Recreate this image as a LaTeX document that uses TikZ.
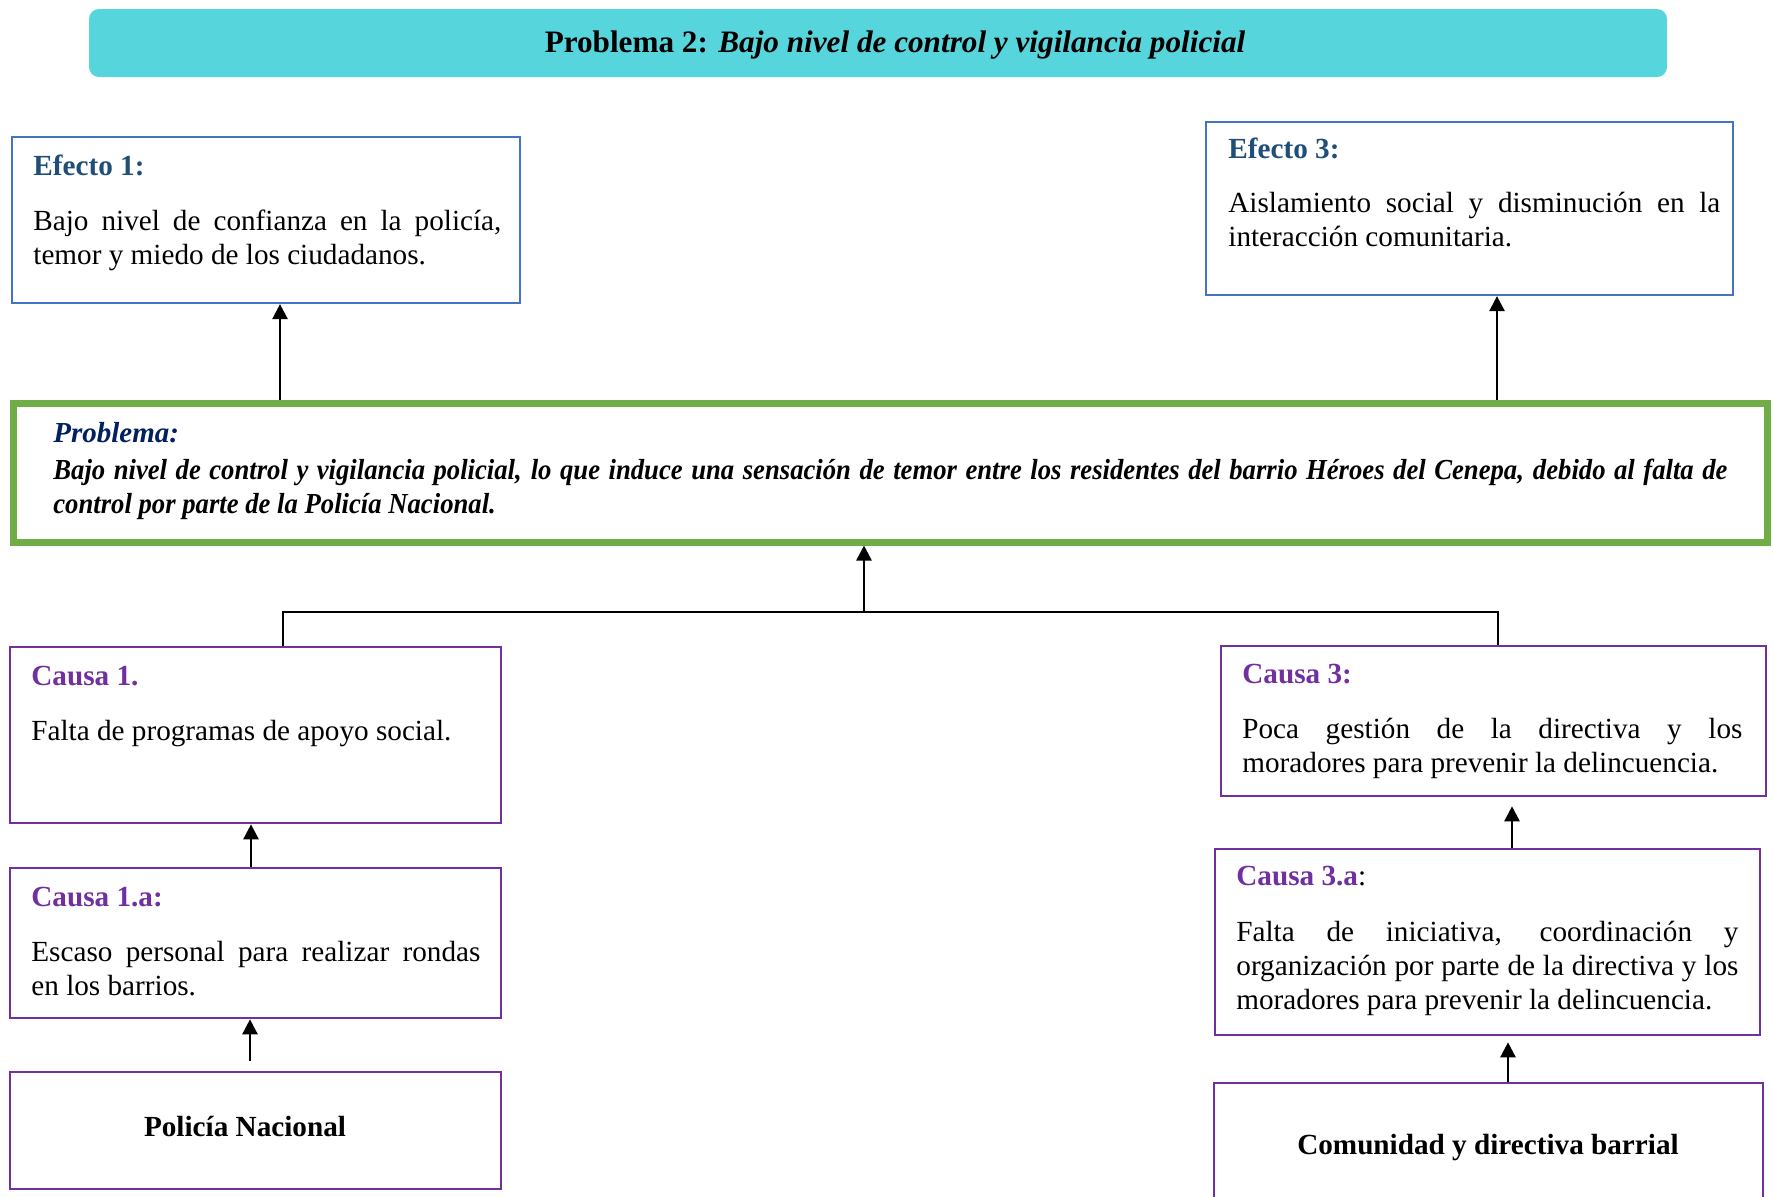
\documentclass[tikz,border=0pt]{standalone}
\usepackage{fontspec}
\setmainfont{Liberation Serif}
\newfontfamily\estrecha[FakeStretch=0.92]{Liberation Serif}
\hyphenpenalty=10000
\exhyphenpenalty=10000
\tolerance=9999
\usetikzlibrary{arrows.meta,fit}
\definecolor{turquesa}{HTML}{57D5DC}
\definecolor{azulef}{HTML}{4472C4}
\definecolor{azultit}{HTML}{1F4E79}
\definecolor{verdepro}{HTML}{70AD47}
\definecolor{marino}{HTML}{002060}
\definecolor{morado}{HTML}{7030A0}

\begin{document}
\begin{tikzpicture}[x=0.5pt,y=-0.5pt,
	caja/.style={draw,inner sep=0pt},
	efecto/.style={caja,draw=azulef,line width=1.1pt},
	causa/.style={caja,draw=morado,line width=1.3pt},
	tit/.style={anchor=base west,inner sep=0pt,font=\fontsize{14.6}{17}\selectfont\bfseries},
	txt/.style={anchor=base west,inner sep=0pt,align=justify,text width=#1,font=\fontsize{14.6}{17}\selectfont},
	flecha/.style={-{Triangle[length=7.5pt,width=7.5pt]},line width=1.25pt},
	linea/.style={line width=1.25pt}]
	\useasboundingbox (0,0) rectangle (1773,1196);
	% titulo
	\node[fill=turquesa,rounded corners=5pt,inner sep=0pt,fit={(89,9) (1667,77)}] (banda) {};
	\node[anchor=base,font=\fontsize{15.6}{17}\selectfont\bfseries] (bandatxt) at (895,52) {Problema 2: \textit{Bajo nivel de control y vigilancia policial}};
	% efectos
	\node[efecto,fit={(12,137) (520,303)}] (ef1) {};
	\node[tit,text=azultit] (ef1tit) at (33,175) {Efecto 1:};
	\node[txt=234pt] (ef1txt) at (33,230) {Bajo nivel de confianza en la policía,\linebreak temor y miedo de los ciudadanos.};
	\node[efecto,fit={(1206,122) (1733,295)}] (ef3) {};
	\node[tit,text=azultit] (ef3tit) at (1228,158) {Efecto 3:};
	\node[txt=246pt] (ef3txt) at (1228,212) {Aislamiento social y disminución en la\linebreak interacción comunitaria.};
	% problema
	\node[caja,fit={(13,403) (1767,542)},draw=verdepro,line width=3.5pt] (prob) {};
	\node[tit,text=marino,font=\fontsize{14.5}{17}\selectfont\bfseries\itshape] (probtit) at (53,442) {Problema:};
	\node[txt=837pt,font=\fontsize{14.5}{17}\estrecha\bfseries\itshape] (probtxt) at (53,479) {Bajo nivel de control y vigilancia policial, lo que induce una sensación de temor entre los residentes del barrio Héroes del Cenepa, debido al falta de\linebreak control por parte de la Policía Nacional.};
	% causas
	\node[causa,fit={(10,647) (501,823)}] (c1) {};
	\node[tit,text=morado] (c1tit) at (31,685) {Causa 1.};
	\node[txt=225pt] (c1txt) at (31,740) {Falta de programas de apoyo social.};
	\node[causa,fit={(10,868) (501,1018)}] (c1a) {};
	\node[tit,text=morado] (c1atit) at (31,906) {Causa 1.a:};
	\node[txt=224.5pt] (c1atxt) at (31,961) {Escaso personal para realizar rondas\linebreak en los barrios.};
	\node[causa,fit={(10,1072) (501,1189)}] (pn) {};
	\node[anchor=base,font=\fontsize{14.6}{17}\selectfont\bfseries] (pntxt) at (245,1136) {Policía Nacional};
	\node[causa,fit={(1221,646) (1766,796)}] (c3) {};
	\node[tit,text=morado] (c3tit) at (1242,683) {Causa 3:};
	\node[txt=250pt] (c3txt) at (1242,738) {Poca gestión de la directiva y los\linebreak moradores para prevenir la delincuencia.};
	\node[causa,fit={(1215,849) (1760,1035)}] (c3a) {};
	\node[tit,text=morado] (c3atit) at (1236,885) {Causa 3.a\textcolor{black}{\mdseries:}};
	\node[txt=251pt] (c3atxt) at (1236,941) {Falta de iniciativa, coordinación y\linebreak organización por parte de la directiva y los\linebreak moradores para prevenir la delincuencia.};
	\node[causa,fit={(1214,1083) (1763,1240)}] (cd) {};
	\node[anchor=base,font=\fontsize{14.6}{17}\selectfont\bfseries] (cdtxt) at (1488,1154) {Comunidad y directiva barrial};
	% conectores
	\coordinate (e1) at (280,0);
	\coordinate (e3) at (1497,0);
	\coordinate (jl) at (283,612);
	\coordinate (jr) at (1498,612);
	\coordinate (jc) at (864,612);
	\coordinate (k1) at (251,0);
	\coordinate (k2) at (250,0);
	\coordinate (k3) at (1512,0);
	\coordinate (k4) at (1508,0);
	\draw[flecha] (prob.north -| e1) -- (ef1.south -| e1);
	\draw[flecha] (prob.north -| e3) -- (ef3.south -| e3);
	\draw[linea] (c1.north -| jl) -- (jl) -- (jr) -- (c3.north -| jr);
	\draw[flecha] (jc) -- (prob.south -| jc);
	\draw[flecha] (c1a.north -| k1) -- (c1.south -| k1);
	\draw[flecha,shorten <=5pt] (pn.north -| k2) -- (c1a.south -| k2);
	\draw[flecha,shorten >=4.5pt] (c3a.north -| k3) -- (c3.south -| k3);
	\draw[flecha,shorten >=3pt] (cd.north -| k4) -- (c3a.south -| k4);
\end{tikzpicture}
\end{document}
